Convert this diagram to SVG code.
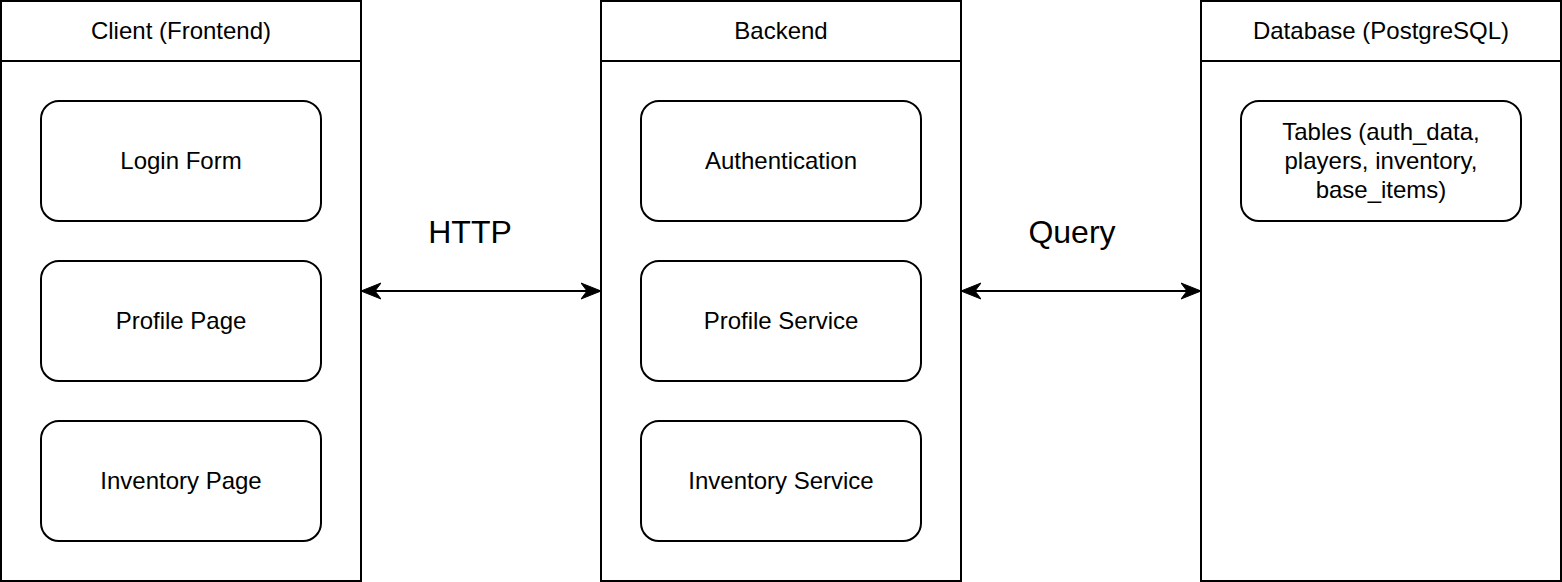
<svg xmlns="http://www.w3.org/2000/svg" width="1562" height="582" viewBox="0 0 1562 582">
<style>
.c{fill:#fff;stroke:#000;stroke-width:2}
.b{fill:#fff;stroke:#000;stroke-width:2}
.t{font-family:"Liberation Sans",Arial,sans-serif;font-size:24px;fill:#000;text-anchor:middle;dominant-baseline:central}
.l{font-family:"Liberation Sans",Arial,sans-serif;font-size:32px;fill:#000;text-anchor:middle;dominant-baseline:central}
.e{fill:none;stroke:#000;stroke-width:2}
</style>
<defs>
<marker id="ah" viewBox="0 0 20 18" refX="19" refY="9" markerWidth="20" markerHeight="18" markerUnits="userSpaceOnUse" orient="auto-start-reverse">
<path d="M0,1 L20,9 L0,17 L6,9 Z" fill="#000" stroke="#000" stroke-width="1"/>
</marker>
</defs>
<rect width="1562" height="582" fill="#fff"/>
<g id="client">
<rect class="c" x="1" y="1" width="360" height="580"/>
<line x1="1" y1="61" x2="361" y2="61" stroke="#000" stroke-width="2"/>
<text class="t" x="181" y="30">Client (Frontend)</text>
</g>
<g id="login-form"><rect class="b" x="41" y="101" width="280" height="120" rx="18"/><text class="t" x="181" y="160">Login Form</text></g>
<g id="profile-page"><rect class="b" x="41" y="261" width="280" height="120" rx="18"/><text class="t" x="181" y="320">Profile Page</text></g>
<g id="inventory-page"><rect class="b" x="41" y="421" width="280" height="120" rx="18"/><text class="t" x="181" y="480">Inventory Page</text></g>
<g id="backend">
<rect class="c" x="601" y="1" width="360" height="580"/>
<line x1="601" y1="61" x2="961" y2="61" stroke="#000" stroke-width="2"/>
<text class="t" x="781" y="30">Backend</text>
</g>
<g id="authentication"><rect class="b" x="641" y="101" width="280" height="120" rx="18"/><text class="t" x="781" y="160">Authentication</text></g>
<g id="profile-service"><rect class="b" x="641" y="261" width="280" height="120" rx="18"/><text class="t" x="781" y="320">Profile Service</text></g>
<g id="inventory-service"><rect class="b" x="641" y="421" width="280" height="120" rx="18"/><text class="t" x="781" y="480">Inventory Service</text></g>
<g id="database">
<rect class="c" x="1201" y="1" width="360" height="580"/>
<line x1="1201" y1="61" x2="1561" y2="61" stroke="#000" stroke-width="2"/>
<text class="t" x="1381" y="30">Database (PostgreSQL)</text>
</g>
<g id="tables"><rect class="b" x="1241" y="101" width="280" height="120" rx="18"/>
<text class="t" x="1381" y="131">Tables (auth_data,</text>
<text class="t" x="1381" y="160">players, inventory,</text>
<text class="t" x="1381" y="189">base_items)</text>
</g>
<g id="connectors">
<line class="e" x1="362" y1="291" x2="600" y2="291" marker-start="url(#ah)" marker-end="url(#ah)"/>
<line class="e" x1="962" y1="291" x2="1200" y2="291" marker-start="url(#ah)" marker-end="url(#ah)"/>
<text class="l" x="470" y="232">HTTP</text>
<text class="l" x="1072" y="232">Query</text>
</g>
</svg>
